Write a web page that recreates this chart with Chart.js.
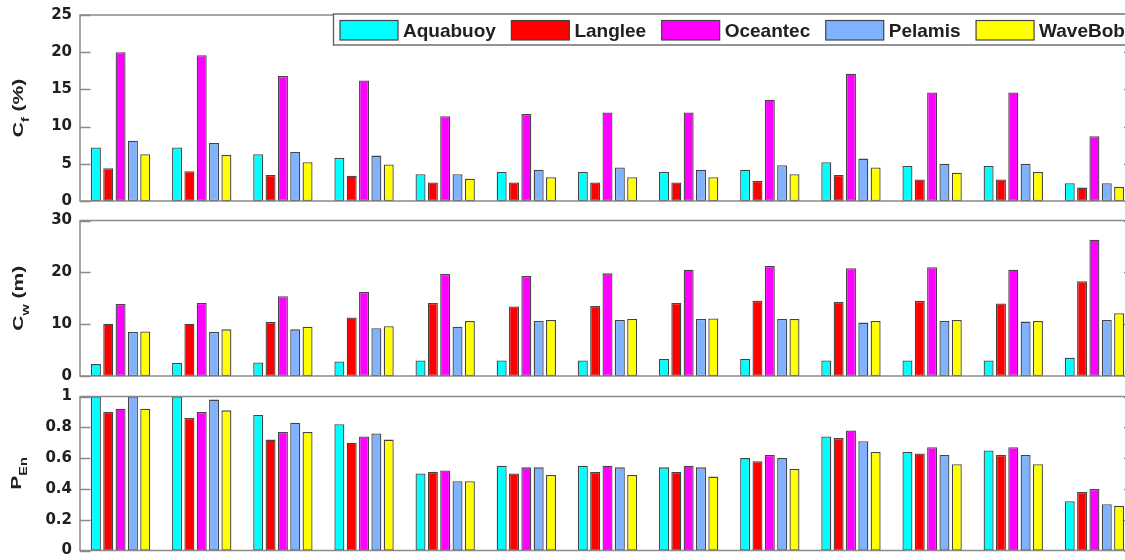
<!DOCTYPE html>
<html>
<head>
<meta charset="utf-8">
<script src="https://cdn.jsdelivr.net/npm/chart.js@4.4.1/dist/chart.umd.min.js"></script>
<style>
  html, body { margin: 0; padding: 0; background: #fff; overflow: hidden; }
  #wrap { position: relative; width: 1135px; height: 560px; }
  #wrap canvas { position: absolute; left: 0; top: 0; }
</style>
</head>
<body>
<div id="wrap">
  <canvas id="cfChart" width="1135" height="560"></canvas>
  <canvas id="cwChart" width="1135" height="560"></canvas>
  <canvas id="penChart" width="1135" height="560"></canvas>
</div>
<script>
// Sites (one bar group per site)
const sites = ['1', '2', '3', '4', '5', '6', '7', '8', '9', '10', '11', '12', '13'];

// Wave energy converters
const devices = ['Aquabuoy', 'Langlee', 'Oceantec', 'Pelamis', 'WaveBob'];
const deviceColors = ['#00ffff', '#ff0000', '#ff00ff', '#80b3ff', '#ffff00'];

// Capacity factor C_f (%)
const cfAquabuoy = [7.2, 7.2, 6.3, 5.8, 3.6, 3.9, 3.9, 3.9, 4.2, 5.2, 4.7, 4.7, 2.4];
const cfLanglee  = [4.4, 4.0, 3.5, 3.4, 2.5, 2.5, 2.5, 2.5, 2.7, 3.5, 2.9, 2.9, 1.8];
const cfOceantec = [20.0, 19.6, 16.8, 16.2, 11.4, 11.7, 11.9, 11.9, 13.6, 17.1, 14.6, 14.6, 8.7];
const cfPelamis  = [8.1, 7.8, 6.6, 6.1, 3.6, 4.2, 4.5, 4.2, 4.8, 5.7, 5.0, 5.0, 2.4];
const cfWaveBob  = [6.3, 6.2, 5.2, 4.9, 3.0, 3.2, 3.2, 3.2, 3.6, 4.5, 3.8, 3.9, 1.9];

// Capture width C_w (m)
const cwAquabuoy = [2.3, 2.5, 2.6, 2.8, 3.0, 3.0, 3.0, 3.3, 3.3, 3.0, 3.0, 3.0, 3.5];
const cwLanglee  = [10.1, 10.1, 10.4, 11.3, 14.1, 13.4, 13.5, 14.1, 14.5, 14.3, 14.5, 14.0, 18.3];
const cwOceantec = [13.9, 14.1, 15.4, 16.2, 19.7, 19.3, 19.8, 20.5, 21.2, 20.8, 21.0, 20.5, 26.3];
const cwPelamis  = [8.5, 8.5, 9.0, 9.2, 9.5, 10.6, 10.8, 11.0, 11.0, 10.3, 10.6, 10.5, 10.8];
const cwWaveBob  = [8.6, 9.0, 9.5, 9.6, 10.6, 10.8, 11.0, 11.1, 11.0, 10.6, 10.8, 10.6, 12.1];

// Normalised energy production P_En
const penAquabuoy = [1.0, 1.0, 0.88, 0.82, 0.50, 0.55, 0.55, 0.54, 0.60, 0.74, 0.64, 0.65, 0.32];
const penLanglee  = [0.90, 0.86, 0.72, 0.70, 0.51, 0.50, 0.51, 0.51, 0.58, 0.73, 0.63, 0.62, 0.38];
const penOceantec = [0.92, 0.90, 0.77, 0.74, 0.52, 0.54, 0.55, 0.55, 0.62, 0.78, 0.67, 0.67, 0.40];
const penPelamis  = [1.0, 0.98, 0.83, 0.76, 0.45, 0.54, 0.54, 0.54, 0.60, 0.71, 0.62, 0.62, 0.30];
const penWaveBob  = [0.92, 0.91, 0.77, 0.72, 0.45, 0.49, 0.49, 0.48, 0.53, 0.64, 0.56, 0.56, 0.29];

// Y-axis tick values per panel
const cfTicks  = [0, 5, 10, 15, 20, 25];
const cwTicks  = [0, 10, 20, 30];
const penTicks = [0, 0.2, 0.4, 0.6, 0.8, 1];

const AXIS_GREY = '#8a8a8a';
const TEXT_DARK = '#202020';

// Box around the plot area, inward ticks on both sides, and the
// rotated y-axis title with a subscript; optional boxed legend.
const framePlugin = {
  id: 'frame',
  afterDatasetsDraw(chart, args, opts) {
    const { ctx, chartArea: a } = chart;
    const y = chart.scales.y;
    ctx.save();
    ctx.strokeStyle = AXIS_GREY;
    ctx.lineWidth = 1.5;
    ctx.strokeRect(a.left, a.top, a.right - a.left, a.bottom - a.top);
    ctx.beginPath();
    y.ticks.forEach(t => {
      const py = Math.round(y.getPixelForValue(t.value)) + 0.5;
      ctx.moveTo(a.left, py); ctx.lineTo(a.left + 10.5, py);
      ctx.moveTo(a.right, py); ctx.lineTo(a.right - 11, py);
    });
    ctx.stroke();
    ctx.restore();

    // y title: main text, subscript, trailing text, rotated
    const t = opts.title;
    const mainFont = 'bold 14.5px "Liberation Sans", Arial, sans-serif';
    const subFont = 'bold 10px "Liberation Sans", Arial, sans-serif';
    ctx.save();
    ctx.fillStyle = TEXT_DARK;
    ctx.textBaseline = 'alphabetic';
    ctx.textAlign = 'left';
    ctx.font = mainFont;
    const wMain = ctx.measureText(t.main).width;
    const wRest = ctx.measureText(t.rest).width;
    ctx.font = subFont;
    const wSub = ctx.measureText(t.sub).width;
    const total = wMain + wSub + wRest;
    const cy = (a.top + a.bottom) / 2;
    ctx.translate(t.baseX, cy);
    ctx.rotate(-Math.PI / 2);
    ctx.scale(1.45, 1);
    let x0 = -total / 2;
    ctx.font = mainFont;
    ctx.fillText(t.main, x0, 0);
    ctx.font = subFont;
    ctx.fillText(t.sub, x0 + wMain, t.subDrop);
    ctx.font = mainFont;
    ctx.fillText(t.rest, x0 + wMain + wSub, 0);
    ctx.restore();
  },
  afterDraw(chart, args, opts) {
    if (!opts.legend) return;
    const L = opts.legend;
    const { ctx } = chart;
    ctx.save();
    ctx.fillStyle = '#ffffff';
    ctx.fillRect(L.left, L.top, chart.width - L.left + 2, L.height);
    ctx.strokeStyle = '#5a5a5a';
    ctx.lineWidth = 1.3;
    ctx.strokeRect(L.left, L.top, chart.width - L.left + 2, L.height);
    ctx.font = 'bold 19px "Liberation Sans", Arial, sans-serif';
    ctx.textBaseline = 'alphabetic';
    ctx.textAlign = 'left';
    let x = L.left + 6.5;
    chart.data.datasets.forEach(ds => {
      ctx.fillStyle = ds.backgroundColor;
      ctx.fillRect(x, L.top + 6.5, 58, 19.5);
      ctx.strokeStyle = '#444';
      ctx.lineWidth = 1.2;
      ctx.strokeRect(x, L.top + 6.5, 58, 19.5);
      ctx.fillStyle = TEXT_DARK;
      ctx.fillText(ds.label, x + 63, L.top + 23.3);
      x += 63 + ctx.measureText(ds.label).width + 15.5;
    });
    ctx.restore();
  }
};

function fmtTick(v) {
  return String(Number(v.toFixed(2)));
}

function makePanel(canvasId, series, ticks, padTop, padBottom, title, legend) {
  const datasets = series.map((vals, i) => ({
    label: devices[i],
    data: vals,
    backgroundColor: deviceColors[i],
    borderColor: '#454545',
    borderWidth: 1.3,
    borderSkipped: false
  }));
  return new Chart(document.getElementById(canvasId), {
    type: 'bar',
    data: { labels: sites, datasets },
    options: {
      responsive: false,
      animation: false,
      devicePixelRatio: 1,
      events: [],
      layout: { padding: { top: padTop, bottom: padBottom, left: 0, right: 0 } },
      datasets: { bar: { categoryPercentage: 0.76, barPercentage: 0.81 } },
      plugins: {
        legend: { display: false },
        tooltip: { enabled: false },
        frame: { title, legend }
      },
      scales: {
        x: { type: 'category', display: false, offset: true, grid: { display: false } },
        y: {
          min: ticks[0],
          max: ticks[ticks.length - 1],
          afterBuildTicks: s => { s.ticks = ticks.map(v => ({ value: v })); },
          afterFit: s => { s.width = 80; s.paddingTop = 0; s.paddingBottom = 0; },
          grid: { display: false, drawTicks: false },
          border: { display: false },
          ticks: {
            padding: 8,
            color: TEXT_DARK,
            font: { family: '"DejaVu Sans", sans-serif', size: 15, weight: 'bold' },
            callback: v => fmtTick(v)
          }
        }
      }
    },
    plugins: [framePlugin]
  });
}

makePanel('cfChart',
  [cfAquabuoy, cfLanglee, cfOceantec, cfPelamis, cfWaveBob],
  cfTicks, 15, 359,
  { main: 'C', sub: 'f', rest: ' (%)', baseX: 23, subDrop: 5.5 },
  { left: 333.5, top: 14, height: 31 });

makePanel('cwChart',
  [cwAquabuoy, cwLanglee, cwOceantec, cwPelamis, cwWaveBob],
  cwTicks, 220.5, 184,
  { main: 'C', sub: 'w', rest: ' (m)', baseX: 23, subDrop: 5.5 },
  null);

makePanel('penChart',
  [penAquabuoy, penLanglee, penOceantec, penPelamis, penWaveBob],
  penTicks, 396.5, 9.5,
  { main: 'P', sub: 'En', rest: '', baseX: 20.5, subDrop: 6 },
  null);
</script>
</body>
</html>
